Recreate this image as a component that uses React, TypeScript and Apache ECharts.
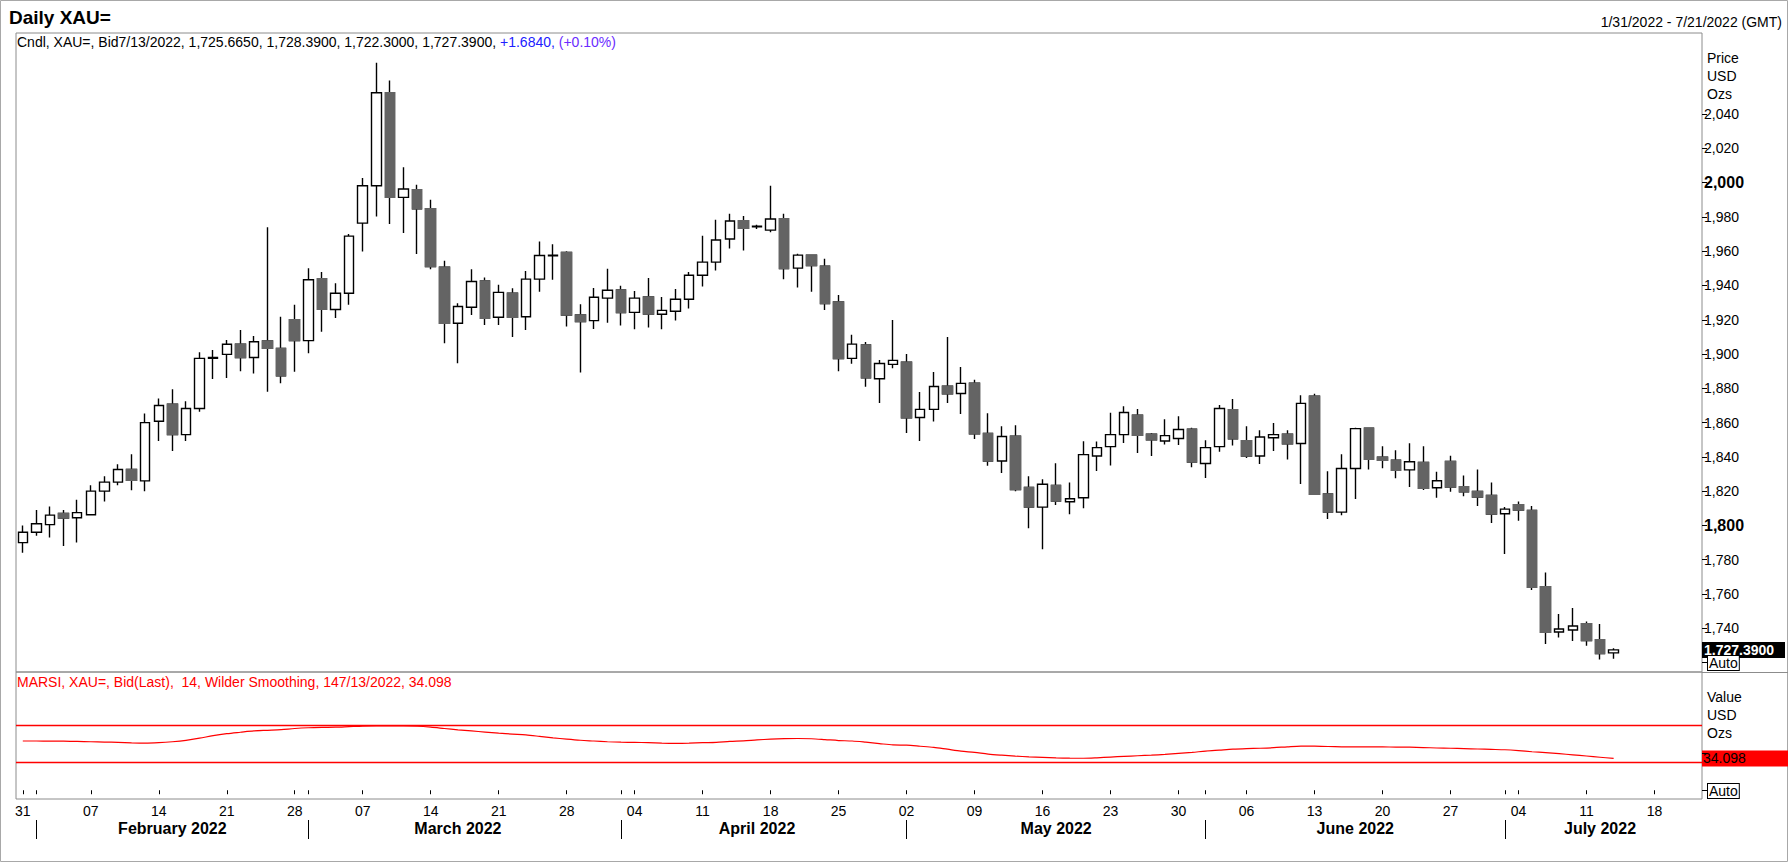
import React, { useEffect, useRef } from "react";
import * as echarts from "echarts";

const FONT = '"Liberation Sans", Arial, Helvetica, sans-serif';

// ---- categories: weekdays from 1/31/2022 up to the right edge of the axis
const FIRST_DAY = "2022-01-31";
const CATEGORY_COUNT = 124;
function weekdays(start: string, count: number): string[] {
  const out: string[] = [];
  const d = new Date(start + "T00:00:00Z");
  while (out.length < count) {
    const wd = d.getUTCDay();
    if (wd !== 0 && wd !== 6) out.push(d.toISOString().slice(0, 10));
    d.setUTCDate(d.getUTCDate() + 1);
  }
  return out;
}
const categories = weekdays(FIRST_DAY, CATEGORY_COUNT);
const monthNames = ["January", "February", "March", "April", "May", "June", "July", "August", "September", "October", "November", "December"];

// ---- daily XAU= candles (Jan 31 – Jul 13, 2022)
const opens = [1790, 1796, 1800.5, 1807, 1804.5, 1806.2, 1820, 1825.3, 1832.6, 1826,
  1860.8, 1870.8, 1853, 1868.2, 1897.5, 1899.8, 1905.7, 1898, 1907.6, 1903.3,
  1920, 1907.8, 1943.9, 1926, 1935.5, 1976.4, 1998.2, 2052.4, 1991.4, 1995.9,
  1984.8, 1950.7, 1918, 1927.3, 1942.7, 1921.5, 1935.5, 1921.8, 1943.7, 1957.3,
  1959.3, 1922.8, 1919.5, 1932.6, 1937.4, 1924.3, 1933.3, 1923.2, 1925, 1932,
  1946, 1953.6, 1967.1, 1977.8, 1974.3, 1972.3, 1979, 1950.1, 1957.7, 1951.3,
  1930.4, 1897.5, 1905.3, 1885.6, 1894, 1895.3, 1863, 1867.7, 1881.3, 1877,
  1883, 1853.7, 1837.6, 1852, 1822.2, 1810.7, 1823.4, 1813.8, 1816.2, 1840.5,
  1846, 1853, 1864.3, 1853.2, 1849.3, 1850.7, 1856.2, 1836.1, 1846, 1867.6,
  1849.5, 1840.5, 1851.2, 1853.2, 1847.8, 1875.4, 1818.4, 1807.8, 1833.2, 1856.7,
  1839.8, 1838, 1832.4, 1836.8, 1822, 1837.4, 1822.6, 1819.9, 1817.5, 1806.8,
  1812.1, 1808.7, 1764.3, 1737.8, 1739, 1742.7, 1733.3, 1725.665];
const closes = [1796, 1801, 1806, 1804.3, 1807.5, 1820, 1825.3, 1832.6, 1826.3, 1860,
  1870, 1853, 1868.2, 1897.5, 1898, 1905.7, 1898, 1907.2, 1903.3, 1887.3,
  1907.8, 1943.3, 1926.1, 1935.5, 1968.8, 1998.2, 2052.4, 1991.4, 1996.3, 1984.8,
  1951, 1918, 1927.7, 1942.3, 1920.9, 1936, 1921.5, 1943.7, 1957.5, 1957.7,
  1922.8, 1918.9, 1933.1, 1937.2, 1924.2, 1932.6, 1923.4, 1925.5, 1932, 1946,
  1953.6, 1966.5, 1977.6, 1973.3, 1974.6, 1978.8, 1949.9, 1957.7, 1951.7, 1929.4,
  1897.3, 1905.8, 1886.2, 1894.5, 1896.3, 1862.8, 1867.7, 1881.1, 1876.8, 1882.9,
  1853.4, 1837.6, 1851.9, 1821, 1810.7, 1824, 1814.2, 1815.6, 1841.3, 1845.4,
  1853, 1865.9, 1852.6, 1849.9, 1852.4, 1856, 1837, 1845.4, 1868.2, 1850.5,
  1840.5, 1851.6, 1853, 1847.6, 1871.2, 1818.1, 1807.8, 1833.2, 1856.5, 1838.6,
  1838, 1832.2, 1837.2, 1821.6, 1826.1, 1822.4, 1819.6, 1816.6, 1806.6, 1809.5,
  1809, 1763.9, 1737.6, 1739.6, 1741.3, 1732.9, 1725.3, 1727.39];
const lows = [1784, 1794, 1793, 1788, 1790, 1806, 1814, 1823.4, 1820.5, 1820,
  1849.3, 1843.5, 1849.3, 1866.3, 1885.4, 1886, 1890, 1888.7, 1878, 1882.9,
  1889.7, 1900.4, 1913, 1921, 1928.7, 1959.8, 1980.3, 1975.8, 1970.6, 1958.3,
  1949.5, 1906.3, 1894.6, 1922.8, 1917, 1917, 1910, 1914, 1936.4, 1943.3,
  1916, 1889.3, 1914.6, 1918.3, 1916.6, 1914.4, 1915.5, 1914.4, 1919.5, 1926.5,
  1939.4, 1948.7, 1961.6, 1960.4, 1973, 1971, 1943.7, 1938.8, 1936.4, 1925.7,
  1890, 1894.3, 1880.9, 1871.5, 1891.7, 1854, 1849.3, 1860.6, 1871.5, 1865,
  1850.5, 1834.9, 1830.6, 1820, 1798.4, 1786.1, 1811.9, 1806.6, 1810, 1831.8,
  1835, 1848.1, 1842.3, 1840.5, 1847.2, 1847, 1834, 1827.7, 1843, 1846.7,
  1839.3, 1835.9, 1843.5, 1838.5, 1824.2, 1818, 1803.7, 1806, 1815.4, 1832.7,
  1833.3, 1827.5, 1822.4, 1820.7, 1816.2, 1819.6, 1817, 1811.3, 1801.4, 1783.4,
  1802.7, 1762.4, 1730.8, 1734.7, 1732.6, 1729.8, 1721.8, 1722.3];
const highs = [1800, 1809, 1811, 1809, 1815, 1823.4, 1828.7, 1835.7, 1841.5, 1865.3,
  1874, 1879.5, 1872.5, 1901, 1902.3, 1908.2, 1914, 1910.5, 1974, 1921.8,
  1928.7, 1950, 1947.8, 1941.3, 1970, 2002.7, 2070, 2059.6, 2009, 1998.8,
  1990, 1954.4, 1929.6, 1949.5, 1944.6, 1940.4, 1938.4, 1948.5, 1965.7, 1964,
  1960, 1929, 1938.6, 1949.7, 1939.8, 1936.8, 1944.4, 1933.3, 1938, 1947.8,
  1969, 1978.4, 1981.9, 1980.6, 1975.5, 1998.2, 1981.9, 1958.5, 1958, 1955.6,
  1934.5, 1911.3, 1907, 1896.5, 1919.9, 1900, 1877.8, 1889.5, 1910, 1892.4,
  1885, 1865.5, 1857.9, 1858.5, 1828.7, 1827, 1836.3, 1825, 1849.1, 1849,
  1865.7, 1869.6, 1868, 1854, 1862, 1863.7, 1857, 1849.7, 1870.2, 1873.7,
  1857.9, 1855.5, 1859.8, 1855.5, 1876, 1876.9, 1831.6, 1841.5, 1857, 1857,
  1846.2, 1843.9, 1848, 1846.2, 1831.4, 1840.7, 1829.1, 1832.6, 1825, 1810.7,
  1813.9, 1811.4, 1772.5, 1748.4, 1751.9, 1743.9, 1742.5, 1728.39];

// ---- MARSI (14, Wilder smoothing)
const rsi = [52.8, 52.8, 52.7, 52.6, 52.3, 52.0, 51.7, 51.4, 50.8, 50.5,
  51.0, 52.0, 53.5, 55.8, 58.6, 60.7, 62.2, 63.6, 64.3, 65.0,
  66.2, 67.0, 67.4, 67.6, 68.2, 68.8, 69.0, 69.0, 69.0, 68.6,
  67.6, 66.2, 64.8, 63.6, 62.4, 61.2, 60.2, 59.3, 57.8, 56.2,
  54.8, 53.6, 52.8, 52.0, 51.5, 51.3, 51.0, 50.5, 50.3, 50.5,
  51.0, 51.4, 52.4, 53.0, 54.0, 54.8, 55.3, 55.5, 55.2, 54.3,
  53.3, 52.8, 51.5, 50.0, 48.6, 48.3, 47.2, 46.0, 44.0, 42.0,
  40.6, 38.8, 37.6, 36.6, 35.8, 35.2, 34.7, 34.4, 34.3, 34.8,
  35.6, 36.3, 37.0, 37.6, 38.4, 39.5, 40.6, 42.0, 43.0, 44.0,
  44.6, 45.0, 45.6, 46.6, 47.4, 47.3, 46.9, 46.6, 46.4, 46.4,
  46.4, 46.3, 46.2, 45.8, 45.3, 45.0, 44.6, 44.2, 43.8, 43.4,
  42.5, 41.3, 40.3, 39.2, 38.0, 36.7, 35.4, 34.1];

const priceTicks = [1720, 1740, 1760, 1780, 1800, 1820, 1840, 1860, 1880, 1900, 1920, 1940, 1960, 1980, 2000, 2020, 2040];
const priceLabels = [1740, 1760, 1780, 1800, 1820, 1840, 1860, 1880, 1900, 1920, 1940, 1960, 1980, 2000, 2020, 2040];
const boldPriceLabels = [1800, 2000];
const rsiTicks = [0, 40];
const rsiLevels = [70, 30];
const LAST_PRICE = 1727.39;
const LAST_PRICE_TEXT = "1,727.3900";
const LAST_RSI = 34.098;
const LAST_RSI_TEXT = "34.098";

const titleText = "Daily XAU=";
const rangeText = "1/31/2022 - 7/21/2022 (GMT)";
const headerMain = "Cndl, XAU=, Bid7/13/2022, 1,725.6650, 1,728.3900, 1,722.3000, 1,727.3900, ";
const headerChange = "+1.6840, ";
const headerPct = "(+0.10%)";
const rsiHeader = "MARSI, XAU=, Bid(Last),  14, Wilder Smoothing, 147/13/2022, 34.098";

// month helpers derived from categories
const monthOf = (i: number) => categories[i].slice(0, 7);
const isMonday = (i: number) => new Date(categories[i] + "T00:00:00Z").getUTCDay() === 1;
const isMonthFirst = (i: number) => i > 0 && monthOf(i) !== monthOf(i - 1);
const monthMid: Record<number, boolean> = {};
(() => {
  let start = 0;
  for (let i = 1; i <= categories.length; i++) {
    if (i === categories.length || monthOf(i) !== monthOf(i - 1)) {
      if (start > 0 || i - start > 3) monthMid[Math.round((start + i - 1) / 2)] = true;
      start = i;
    }
  }
})();

export default function App() {
  const ref = useRef<HTMLDivElement>(null);
  useEffect(() => {
    document.body.style.margin = "0";
    const chart = echarts.init(ref.current!, undefined, { renderer: "svg" });

    const candles = opens.map((o, i) => [o, closes[i], lows[i], highs[i]]);
    const bearBodies = opens.map((o, i) => (closes[i] < o ? [o, closes[i], closes[i], o] : "-"));

    const GL = 16, GW = 1686;
    const txt = (x: number, y: number, text: string, extra: any = {}) => ({
      type: "text", silent: true,
      style: { x, y, text, fill: "#000", font: `14px ${FONT}`, verticalAlign: "middle", ...extra },
    });
    const baseGraphic: any[] = [
      { type: "rect", silent: true, shape: { x: 0.5, y: 0.5, width: 1787, height: 861 }, style: { fill: "none", stroke: "#a8a8a8", lineWidth: 1 } },
      { type: "line", silent: true, shape: { x1: 1702, y1: 672.5, x2: 1788, y2: 672.5 }, style: { stroke: "#8c8c8c", lineWidth: 1 } },
      txt(9, 17, titleText, { font: `bold 19px ${FONT}` }),
      txt(1782, 22, rangeText, { align: "right" }),
      {
        type: "text", silent: true,
        style: {
          x: 17, y: 42, verticalAlign: "middle",
          text: `{k|${headerMain}}{c|${headerChange}}{p|${headerPct}}`,
          rich: {
            k: { fill: "#000", font: `14px ${FONT}` },
            c: { fill: "#2020ff", font: `14px ${FONT}` },
            p: { fill: "#6a2cff", font: `14px ${FONT}` },
          },
        },
      },
      txt(17, 682, rsiHeader, { fill: "#ff0000" }),
      txt(1707, 58, "Price"),
      txt(1707, 76, "USD"),
      txt(1707, 94, "Ozs"),
      txt(1707, 697, "Value"),
      txt(1707, 715, "USD"),
      txt(1707, 733, "Ozs"),
      { ...txt(1708, 663, "Auto", { borderColor: "#000", borderWidth: 1, backgroundColor: "#fff", padding: [0, 1, 0, 1] }), z: 10 },
      { ...txt(1708, 791, "Auto", { borderColor: "#000", borderWidth: 1, backgroundColor: "#fff", padding: [0, 1, 0, 1] }), z: 10 },
    ];

    const option: any = {
      animation: false,
      textStyle: { fontFamily: FONT },
      grid: [
        { left: GL, top: 33, width: GW, height: 639, show: true, borderColor: "#8c8c8c", borderWidth: 1 },
        { left: GL, top: 672, width: GW, height: 127, show: true, borderColor: "#8c8c8c", borderWidth: 1 },
      ],
      xAxis: [
        {
          type: "category", gridIndex: 0, data: categories, boundaryGap: true,
          axisLine: { show: false }, axisTick: { show: false }, axisLabel: { show: false }, splitLine: { show: false },
        },
        {
          type: "category", gridIndex: 1, data: categories, boundaryGap: true, position: "bottom",
          axisLine: { show: false }, splitLine: { show: false },
          axisTick: {
            show: true, alignWithLabel: true, length: 4, lineStyle: { color: "#000", width: 1 },
            interval: (i: number) => isMonday(i) || isMonthFirst(i),
          },
          axisLabel: {
            interval: (i: number) => isMonday(i), margin: 5, fontSize: 14, color: "#000", fontFamily: FONT,
            formatter: (v: string) => v.slice(8, 10),
          },
        },
        {
          type: "category", gridIndex: 1, data: categories, boundaryGap: true, position: "bottom", offset: 21,
          axisLine: { show: false }, splitLine: { show: false },
          axisTick: {
            show: true, alignWithLabel: true, length: 19, lineStyle: { color: "#000", width: 1 },
            interval: (i: number) => isMonthFirst(i),
          },
          axisLabel: {
            interval: (i: number) => !!monthMid[i], margin: 0, fontSize: 16, fontWeight: "bold", color: "#000", fontFamily: FONT,
            formatter: (v: string) => monthNames[Number(v.slice(5, 7)) - 1] + " " + v.slice(0, 4),
          },
        },
      ],
      yAxis: [
        {
          type: "value", gridIndex: 0, position: "right", min: 1714.5, max: 2087.3, scale: true,
          splitLine: { show: false }, axisLine: { show: false },
          axisTick: { show: true, length: 5, lineStyle: { color: "#000" }, customValues: priceTicks },
          axisLabel: {
            customValues: priceLabels, margin: 2, fontSize: 14, color: "#000", fontFamily: FONT,
            formatter: (v: number) => {
              const s = v.toLocaleString("en-US");
              return boldPriceLabels.indexOf(v) >= 0 ? "{b|" + s + "}" : s;
            },
            rich: { b: { fontWeight: "bold", fontSize: 16, color: "#000", fontFamily: FONT } },
          },
        },
        {
          type: "value", gridIndex: 1, position: "right", min: -9.4, max: 126.8,
          splitLine: { show: false }, axisLine: { show: false },
          axisTick: { show: true, length: 5, lineStyle: { color: "#000" }, customValues: rsiTicks },
          axisLabel: { show: false },
        },
      ],
      series: [
        {
          type: "candlestick", name: "XAU=", xAxisIndex: 0, yAxisIndex: 0, data: candles, barWidth: 10,
          itemStyle: { color: "#ffffff", color0: "#646464", borderColor: "#000000", borderColor0: "#000000", borderWidth: 1.4 },
        },
        {
          type: "candlestick", name: "bodies", xAxisIndex: 0, yAxisIndex: 0, data: bearBodies, barWidth: 10, z: 3,
          itemStyle: { color: "#646464", color0: "#646464", borderColor: "#646464", borderColor0: "#646464", borderWidth: 1.4 },
        },
        {
          type: "line", name: "MARSI", xAxisIndex: 1, yAxisIndex: 1, data: rsi, showSymbol: false, smooth: 0.3,
          lineStyle: { color: "#ff0000", width: 1.2 },
          markLine: {
            silent: true, symbol: ["none", "none"],
            data: rsiLevels.map((lv) => ({ yAxis: lv, lineStyle: { color: "#ff0000", width: 1.3, type: "solid" }, label: { show: false } })),
          },
        },
      ],
      graphic: baseGraphic,
    };
    chart.setOption(option);

    // value boxes on the right axis, placed through the axes' own scales
    const yPrice = chart.convertToPixel({ yAxisIndex: 0 } as any, LAST_PRICE) as number;
    const yRsi = chart.convertToPixel({ yAxisIndex: 1 } as any, LAST_RSI) as number;
    chart.setOption({
      graphic: [
        ...baseGraphic,
        {
          type: "group", silent: true, z: 20,
          children: [
            { type: "rect", shape: { x: 1702, y: yPrice - 8, width: 83, height: 16 }, style: { fill: "#000" } },
            { type: "text", style: { x: 1704, y: yPrice, text: LAST_PRICE_TEXT, fill: "#fff", font: `bold 14px ${FONT}`, verticalAlign: "middle" } },
          ],
        },
        {
          type: "group", silent: true, z: 20,
          children: [
            { type: "rect", shape: { x: 1702, y: yRsi - 8, width: 86, height: 16 }, style: { fill: "#ff0000" } },
            { type: "text", style: { x: 1703, y: yRsi, text: LAST_RSI_TEXT, fill: "#000", font: `14px ${FONT}`, verticalAlign: "middle" } },
          ],
        },
      ],
    });
    return () => chart.dispose();
  }, []);
  return <div ref={ref} style={{ width: 1788, height: 862 }} />;
}
